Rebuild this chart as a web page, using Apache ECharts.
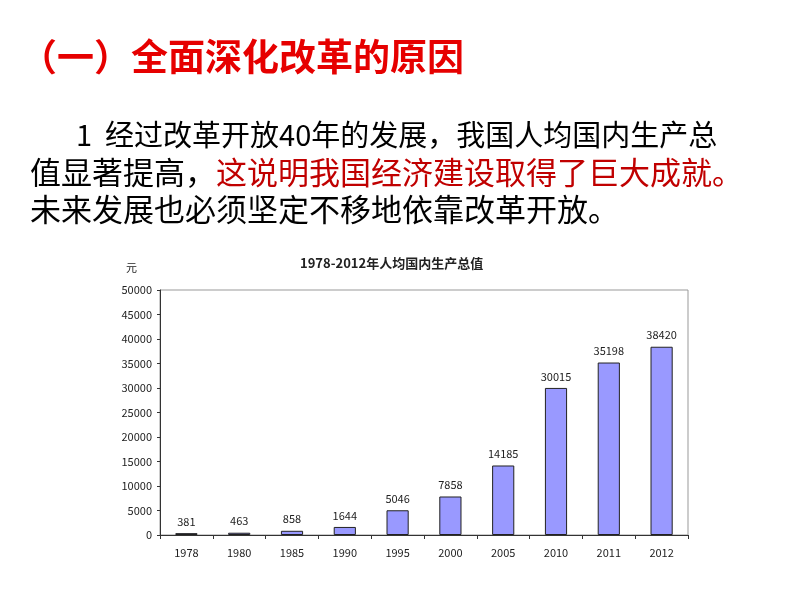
<!DOCTYPE html><html><head><meta charset="utf-8"><script src="https://cdn.jsdelivr.net/npm/echarts@6/dist/echarts.min.js"></script>
<style>html,body{margin:0;background:#fff}#c{width:794px;height:596px}</style></head><body><div id="c"></div><script>
const categories=['1978','1980','1985','1990','1995','2000','2005','2010','2011','2012'];
const values=[381,463,858,1644,5046,7858,14185,30015,35198,38420];
const yTicks=[0,5000,10000,15000,20000,25000,30000,35000,40000,45000,50000];
const ch=echarts.init(document.getElementById('c'));
const F='"Noto Sans CJK SC",sans-serif';
ch.setOption({
 animation:false,
 graphic:[
  {type:'text',left:20,top:38,style:{text:'（一）全面深化改革的原因',fill:'#e60000',font:'bold 37px '+F}},
  {type:'text',left:76,top:120,style:{text:'1  经过改革开放40年的发展，我国人均国内生产总',fill:'#000',font:'29px '+F}},
  {type:'text',left:30,top:157,style:{rich:{a:{fill:'#000',font:'31px '+F},b:{fill:'#c00000',font:'31px '+F}},text:'{a|值显著提高，}{b|这说明我国经济建设取得了巨大成就。}'}},
  {type:'text',left:30,top:194,style:{text:'未来发展也必须坚定不移地依靠改革开放。',fill:'#000',font:'31px '+F}},
  {type:'text',left:300,top:257,style:{text:'1978-2012年人均国内生产总值',fill:'#222',font:'bold 13px '+F}},
  {type:'text',left:126,top:262,style:{text:'元',fill:'#222',font:'11px '+F}}
 ],
 grid:{left:160,right:106,top:290,bottom:61,show:true,borderColor:'#999',borderWidth:1},
 xAxis:{type:'category',data:categories,axisLine:{lineStyle:{color:'#333'}},axisTick:{show:true,length:4,lineStyle:{color:'#333'}},axisLabel:{color:'#222',fontSize:11,margin:12,fontFamily:F}},
 yAxis:{type:'value',min:yTicks[0],max:yTicks[yTicks.length-1],interval:yTicks[1]-yTicks[0],axisLine:{show:true,lineStyle:{color:'#333'}},axisTick:{show:true,length:3},splitLine:{show:false},axisLabel:{color:'#222',fontSize:11,fontFamily:F,formatter:v=>String(v)}},
 series:[{type:'bar',data:values,barWidth:'42%',itemStyle:{color:'#9999ff',borderColor:'#222',borderWidth:1},label:{show:true,position:'top',color:'#222',fontSize:11,fontFamily:F,distance:6}}]
});
</script></body></html>
